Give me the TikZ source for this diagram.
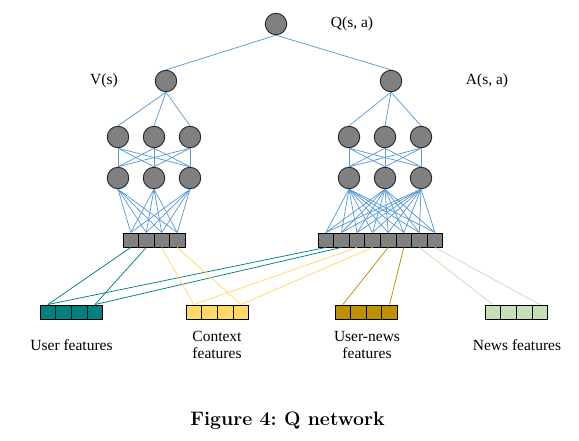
\documentclass[tikz,border=0pt]{standalone}
\usepackage{fontspec}
\newfontfamily\labelfont{Liberation Serif}
\definecolor{linkblue}{HTML}{5B9BD5}
\definecolor{userteal}{HTML}{00807F}
\definecolor{ctxyellow}{HTML}{FFD966}
\definecolor{ungold}{HTML}{BF9000}
\definecolor{newsgreen}{HTML}{C5E0B4}

\begin{document}
\begin{tikzpicture}
  [x=1pt,y=-1pt,
   neuron/.style={circle,draw=black!85,fill=gray,line width=0.9pt,minimum size=21.5pt,inner sep=0pt},
   cell/.style={draw=black,line width=0.9pt,minimum width=15.6pt,minimum height=14pt,inner sep=0pt},
   lbl/.style={font=\labelfont\fontsize{15.5}{17}\selectfont,align=center,inner sep=0pt},
   link/.style={line width=0.75pt}]
  \useasboundingbox (0,0) rectangle (579,440);

  \node[neuron] (q) at (276,24)  {};
  \node[neuron] (v) at (166,81)  {};
  \node[neuron] (a) at (391,81)  {};
  \node[lbl] (qlbl) at (352,24)  {Q(s, a)};
  \node[lbl] (vlbl) at (104,81)  {V(s)};
  \node[lbl] (albl) at (487,81)  {A(s, a)};

  % hidden layers
  \foreach \i/\x in {1/118,2/154,3/190}{
    \node[neuron] (l1\i) at (\x,137) {};
    \node[neuron] (l2\i) at (\x,178) {};
  }
  \foreach \i/\x in {1/349,2/385,3/421}{
    \node[neuron] (r1\i) at (\x,137) {};
    \node[neuron] (r2\i) at (\x,178) {};
  }

  % bars
  \foreach \i in {1,...,4}
    \node[cell,fill=gray] (lb\i) at ({123+15.5*(\i-0.5)},240) {};
  \foreach \i in {1,...,8}
    \node[cell,fill=gray] (rb\i) at ({318+15.6*(\i-0.5)},240) {};

  % feature blocks
  \foreach \i in {1,...,4}{
    \node[cell,fill=userteal]  (u\i)  at ({40+15.7*(\i-0.5)},312)  {};
    \node[cell,fill=ctxyellow] (c\i)  at ({186+15.7*(\i-0.5)},312) {};
    \node[cell,fill=ungold]    (un\i) at ({335+15.6*(\i-0.5)},312) {};
    \node[cell,fill=newsgreen] (nf\i) at ({485+15.7*(\i-0.5)},312) {};
  }
  \node[lbl] (ulbl)  at (71.5,345) {User features};
  \node[lbl] (clbl)  at (217,345)  {Context\\features};
  \node[lbl] (unlbl) at (367,345)  {User-news\\features};
  \node[lbl] (nflbl) at (517,345)  {News features};

  \node[font=\bfseries\fontsize{19.5}{22}\selectfont,inner sep=0pt] (cap) at (287.5,421) {\frenchspacing Figure 4: Q network};

  % network links
  \foreach \from/\to in {q/v,q/a,v/l11,v/l12,v/l13,a/r11,a/r12,a/r13}
    \draw[link,linkblue] (\from.south) -- (\to.north);
  \foreach \s in {1,2,3}
    \foreach \t in {1,2,3}{
      \draw[link,linkblue] (l1\s.south) -- (l2\t.north);
      \draw[link,linkblue] (r1\s.south) -- (r2\t.north);
    }
  \foreach \s in {1,2,3}{
    \foreach \t in {1,...,4}
      \draw[link,linkblue] (l2\s.south) -- (lb\t.north);
    \foreach \t in {1,...,8}
      \draw[link,linkblue] (r2\s.south) -- (rb\t.north);
  }

  % feature links
  \foreach \from/\to/\col in {u1/lb1/userteal,u4/lb2/userteal,u1/rb1/userteal,u4/rb2/userteal,
      c1/lb3/ctxyellow,c4/lb4/ctxyellow,c1/rb3/ctxyellow,c4/rb4/ctxyellow,
      un1/rb5/ungold,un4/rb6/ungold,nf1/rb7/newsgreen,nf4/rb8/newsgreen}
    \draw[link,\col] (\from.north) -- (\to.south);
\end{tikzpicture}
\end{document}
